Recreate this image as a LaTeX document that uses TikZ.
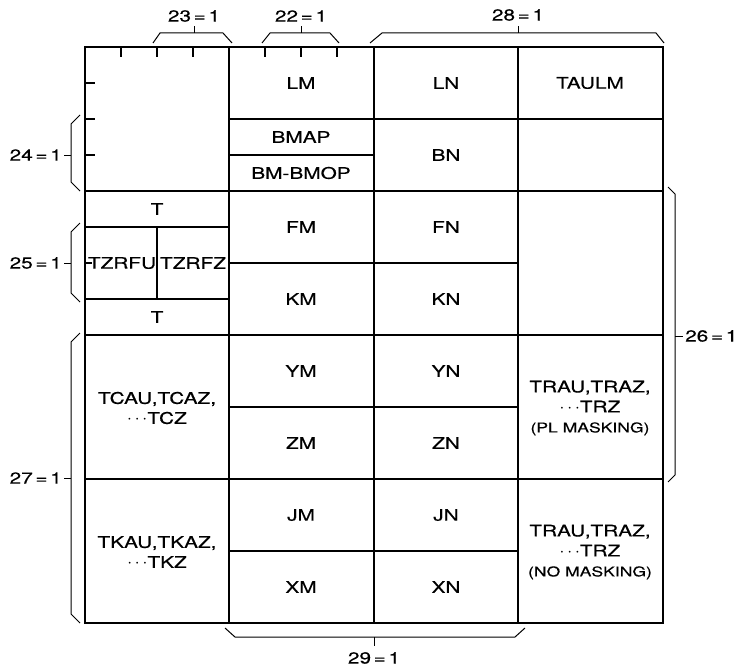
\documentclass[tikz,border=0pt]{standalone}
\usepackage{fontspec}
\setmainfont{TeX Gyre Heros}[FakeStretch=1.3,FakeBold=0.4]
\usepackage{tikz}
\usetikzlibrary{positioning}

\tikzset{
  grid/.style={line width=1.2pt},
  frame/.style={line width=2pt},
  brace/.style={line width=1pt},
  cell/.style={font=\fontsize{16}{20}\selectfont, inner sep=0pt},
  dim/.style={font=\fontsize{16}{18}\selectfont, inner sep=1pt}
}

\begin{document}
\begin{tikzpicture}[x=1pt,y=-1pt]
\useasboundingbox (0,0) rectangle (741,666);

% inner lines
\draw[grid] (229,47) -- (229,623);
\draw[grid] (374,47) -- (374,623);
\draw[grid] (518,47) -- (518,623);
\draw[grid] (229,119) -- (663,119);
\draw[grid] (229,155) -- (374,155);
\draw[grid] (85,191) -- (663,191);
\draw[grid] (85,227) -- (229,227);
\draw[grid] (229,263) -- (518,263);
\draw[grid] (85,299) -- (229,299);
\draw[grid] (157,227) -- (157,299);
\draw[grid] (85,335) -- (663,335);
\draw[grid] (229,407) -- (518,407);
\draw[grid] (85,479) -- (663,479);
\draw[grid] (229,551) -- (518,551);

% ticks
\foreach \x in {121,157,193,265,301,337}
  \draw[grid] (\x,47) -- (\x,57);
\foreach \y in {83,119,155}
  \draw[grid] (85,\y) -- (95,\y);
\draw[grid] (85,263) -- (92,263);

\draw[frame] (85,47) rectangle (663,623);

% cells
\node[cell] (lm) at (301,83) {LM};
\node[cell] (ln) at (446,83) {LN};
\node[cell] (taulm) at (590,83) {TAULM};
\node[cell] (bmap) at (301,137) {BMAP};
\node[cell] (bmbmop) at (301,173) {BM-BMOP};
\node[cell] (bn) at (446,155) {BN};
\node[cell] (ttop) at (157,209) {T};
\node[cell] (tzrfu) at (122,263) {TZRFU};
\node[cell] (tzrfz) at (193,263) {TZRFZ};
\node[cell] (tbot) at (157,317) {T};
\node[cell] (fm) at (301,227) {FM};
\node[cell] (fn) at (446,227) {FN};
\node[cell] (km) at (301,299) {KM};
\node[cell] (kn) at (446,299) {KN};
\node[cell] (ym) at (301,371) {YM};
\node[cell] (yn) at (446,371) {YN};
\node[cell] (zm) at (301,443) {ZM};
\node[cell] (zn) at (446,443) {ZN};
\node[cell] (jm) at (301,515) {JM};
\node[cell] (jn) at (446,515) {JN};
\node[cell] (xm) at (301,587) {XM};
\node[cell] (xn) at (446,587) {XN};
\node[cell, align=center] (tc) at (157,408) {TCAU,TCAZ,\\$\cdots$TCZ};
\node[cell, align=center] (tk) at (157,552) {TKAU,TKAZ,\\$\cdots$TKZ};
\node[cell, align=center] (trpl) at (590,408)
  {TRAU,TRAZ,\\$\cdots$TRZ\\{\fontsize{13.5}{15}\selectfont (PL MASKING)}};
\node[cell, align=center] (trno) at (590,552)
  {TRAU,TRAZ,\\$\cdots$TRZ\\{\fontsize{13.5}{15}\selectfont (NO MASKING)}};

% braces
\draw[brace] (153,43) -- (160,33) -- (223,33) -- (232,43);
\draw[brace] (194,33) -- (194,26);
\node[dim] (d23) at (194,16) {23\,=\,1};
\draw[brace] (262,43) -- (270,33) -- (330,33) -- (339,43);
\draw[brace] (301,33) -- (301,26);
\node[dim] (d22) at (301,16) {22\,=\,1};
\draw[brace] (370,43) -- (382,33) -- (656,33) -- (664,43);
\draw[brace] (518,33) -- (518,26);
\node[dim] (d28) at (518,15) {28\,=\,1};
\draw[brace] (80,115) -- (71,124) -- (71,182) -- (80,191);
\draw[brace] (71,155) -- (64,155);
\node[dim, anchor=east] (d24) at (63,155) {24\,=\,1};
\draw[brace] (80,223) -- (71,232) -- (71,293) -- (80,302);
\draw[brace] (71,263) -- (64,263);
\node[dim, anchor=east] (d25) at (63,263) {25\,=\,1};
\draw[brace] (80,333) -- (71,342) -- (71,614) -- (80,623);
\draw[brace] (71,478) -- (64,478);
\node[dim, anchor=east] (d27) at (63,478) {27\,=\,1};
\draw[brace] (668,187) -- (675,194) -- (675,475) -- (668,482);
\draw[brace] (675,336) -- (683,336);
\node[dim, anchor=west] (d26) at (684,336) {26\,=\,1};
\draw[brace] (225,628) -- (235,637) -- (515,637) -- (525,628);
\draw[brace] (374,637) -- (374,646);
\node[dim] (d29) at (374,658) {29\,=\,1};
\end{tikzpicture}
\end{document}
